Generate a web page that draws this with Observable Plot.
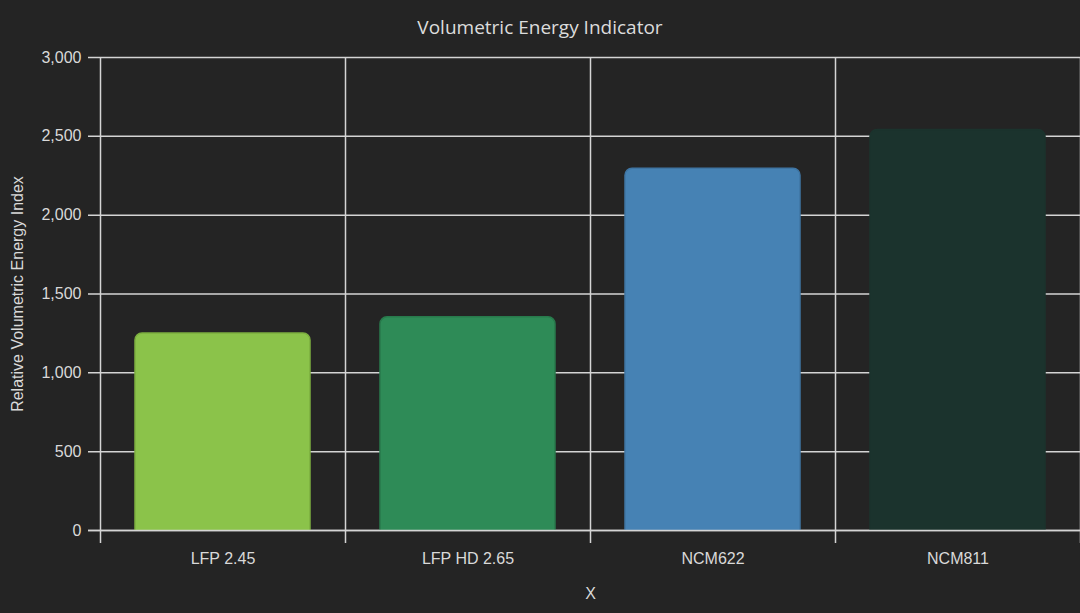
<!DOCTYPE html>
<html>
<head>
<meta charset="utf-8">
<script src="https://cdn.jsdelivr.net/npm/d3@7"></script>
<script src="https://cdn.jsdelivr.net/npm/@observablehq/plot@0.6"></script>
<style>
  html, body { margin: 0; padding: 0; background: #242424; }
  #title { height: 45px; line-height: 54px; text-align: center; color: #dcdcdc;
    font-family: "Open Sans", "Noto Sans", sans-serif; font-size: 19px; width: 1080px; }
  #chart svg { display: block; }
</style>
</head>
<body>
<div id="title">Volumetric Energy Indicator</div>
<div id="chart"></div>
<script>
const categories = ["LFP 2.45", "LFP HD 2.65", "NCM622", "NCM811"];
const values = [1250, 1352, 2295, 2540];
const colors = ["#8bc34a", "#2e8b57", "#4682b4", "#1b332d"];
const strokes = ["#7cae3f", "#287a4c", "#3f75a3", "#1b332d"];
const yTicks = [0, 500, 1000, 1500, 2000, 2500, 3000];

const data = categories.map((c, i) => ({cat: c, value: values[i], fill: colors[i], stroke: strokes[i]}));
const step = 980 / 4;
const gridColor = "#d4d4d4";

const plot = Plot.plot({
  width: 1080,
  height: 568,
  marginTop: 12,
  marginBottom: 83,
  marginLeft: 100,
  marginRight: 0,
  style: {background: "#242424", color: "#d9d9d9", fontFamily: "'Liberation Sans', Arial, sans-serif", fontSize: "16px"},
  x: {domain: categories, paddingInner: 0.285, paddingOuter: 0.1425, label: "X"},
  y: {domain: [0, 3000], label: "Relative Volumetric Energy Index"},
  marks: [
    Plot.ruleY(yTicks, {y: d => d, stroke: gridColor, strokeWidth: 1.5, strokeOpacity: 1, insetLeft: -12}),
    Plot.ruleX(categories, {x: d => d, dx: -step / 2, stroke: gridColor, strokeWidth: 1.5, insetBottom: -13}),
    Plot.ruleX(categories.slice(-1), {x: d => d, dx: step / 2, stroke: gridColor, strokeWidth: 1.5, insetBottom: -13}),
    Plot.barY(data, {x: "cat", y: "value", fill: "fill", stroke: "stroke", strokeWidth: 1.5, rx: 7, insetBottom: -10, clip: "frame"}),
    Plot.ruleY([0], {stroke: gridColor, strokeWidth: 1.5, insetLeft: -12}),
    Plot.axisY(yTicks, {tickSize: 0, tickPadding: 19, tickFormat: d3.format(","), label: "Relative Volumetric Energy Index", labelAnchor: "center", labelArrow: "none", labelOffset: 89, fontSize: 16}),
    Plot.axisX({tickSize: 0, tickPadding: 22, label: "X", labelAnchor: "center", labelArrow: "none", labelOffset: 68, fontSize: 16})
  ]
});
document.getElementById("chart").appendChild(plot);
</script>
</body>
</html>
